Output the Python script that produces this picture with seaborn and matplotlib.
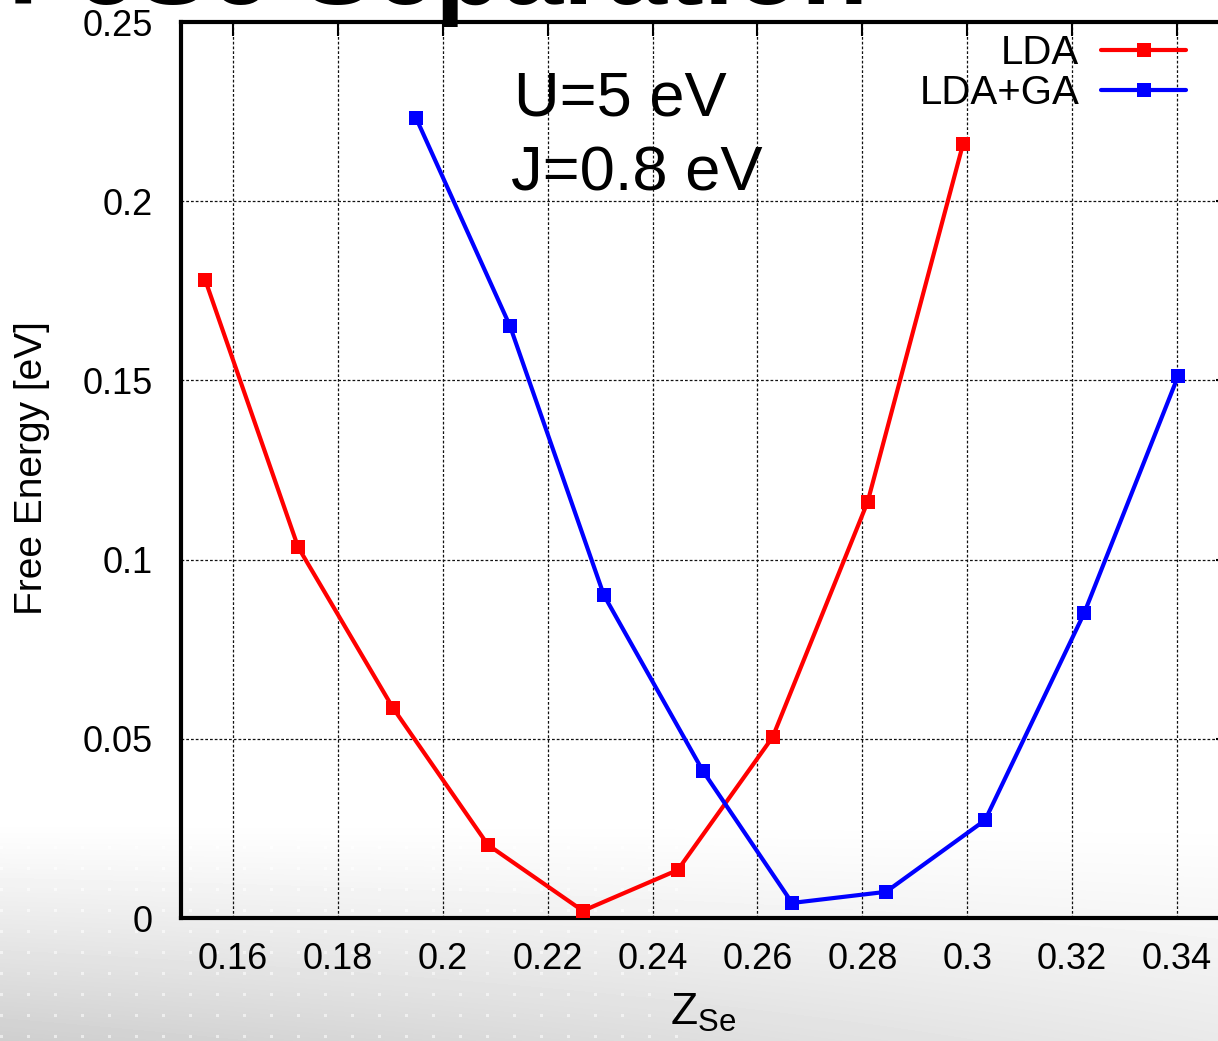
import numpy as np
import pandas as pd
import matplotlib
matplotlib.use("Agg")
import matplotlib.pyplot as plt
import seaborn as sns

# Se height z_Se and free energy (eV) for the two methods
z_lda = [0.1547, 0.1724, 0.1905, 0.2086, 0.2267, 0.2448, 0.2629, 0.2810, 0.2992]
f_lda = [0.178, 0.1035, 0.0586, 0.0204, 0.0020, 0.0134, 0.0505, 0.1161, 0.216]

z_ga = [0.1949, 0.2128, 0.2307, 0.2496, 0.2666, 0.2845, 0.3034, 0.3223, 0.3402]
f_ga = [0.2232, 0.1652, 0.0901, 0.0410, 0.0042, 0.0073, 0.0273, 0.0851, 0.1512]

methods = ["LDA", "LDA+GA"]
colors = {"LDA": "#ff0000", "LDA+GA": "#0000ff"}

x_ticks = [0.16, 0.18, 0.20, 0.22, 0.24, 0.26, 0.28, 0.30, 0.32, 0.34]
x_tick_labels = ["0.16", "0.18", "0.2", "0.22", "0.24", "0.26", "0.28", "0.3", "0.32", "0.34"]
y_ticks = [0.0, 0.05, 0.10, 0.15, 0.20, 0.25]
y_tick_labels = ["0", "0.05", "0.1", "0.15", "0.2", "0.25"]

df = pd.DataFrame({
    "z": z_lda + z_ga,
    "F": f_lda + f_ga,
    "method": [methods[0]] * len(z_lda) + [methods[1]] * len(z_ga),
})

sns.set_theme(style="white")
plt.rcParams["font.family"] = ["Liberation Sans", "DejaVu Sans"]
plt.rcParams["mathtext.fontset"] = "custom"
plt.rcParams["mathtext.rm"] = "Liberation Sans"
plt.rcParams["mathtext.it"] = "Liberation Sans"
plt.rcParams["text.color"] = "black"
plt.rcParams["axes.labelcolor"] = "black"
plt.rcParams["xtick.color"] = "black"
plt.rcParams["ytick.color"] = "black"

W, H, DPI = 1218, 1041, 100
fig = plt.figure(figsize=(W / DPI, H / DPI), dpi=DPI)

# slide backdrop: light grey sweep at the bottom with a grid of faint dots
yy, xx = np.mgrid[0:H, 0:W]
t = np.clip((yy - 820) / (H - 820), 0, 1)
s = np.clip(1.0 - 0.55 * xx / W, 0, 1)
img = 1.0 - 0.19 * t ** 1.1 * s
dots = ((xx % 27) < 3) & (((yy - 6) % 21) < 3) & (xx < 700)
img = np.where(dots & (t > 0.1), img + (1 - img) * 0.55, img)
bg = fig.add_axes([0, 0, 1, 1], zorder=-5)
bg.imshow(img, cmap="gray", vmin=0, vmax=1, aspect="auto", interpolation="nearest")
bg.axis("off")

left_px, right_px, top_px, bottom_px = 180.6, 1229.5, 22, 918
ax = fig.add_axes([left_px / W, 1 - bottom_px / H,
                   (right_px - left_px) / W, (bottom_px - top_px) / H])
ax.set_zorder(1)
ax.patch.set_alpha(0)

sns.lineplot(data=df, x="z", y="F", hue="method", hue_order=methods,
             palette=colors, marker="s", markersize=10, markeredgewidth=0,
             linewidth=3, ax=ax, zorder=3)

ax.set_xlim(0.15, 0.35)
ax.set_ylim(0, 0.25)
ax.set_xticks(x_ticks)
ax.set_xticklabels(x_tick_labels, fontsize=26)
ax.set_yticks(y_ticks)
ax.set_yticklabels(y_tick_labels, fontsize=26)
ax.tick_params(direction="in", top=True, right=True, length=10, width=1.5,
               color="black", labelcolor="black")
ax.tick_params(axis="x", pad=17)
ax.tick_params(axis="y", pad=20)

ax.grid(True, color="#111111", linestyle=(0, (2.2, 1.6)), linewidth=0.9)
ax.set_axisbelow(True)
for sp in ax.spines.values():
    sp.set_color("black")
    sp.set_linewidth(3)
    sp.set_visible(True)

span_x = right_px - left_px
span_y = bottom_px - top_px
ax.set_ylabel("Free Energy [eV]", fontsize=28, color="black")
ax.yaxis.set_label_coords((50 - left_px) / span_x, (bottom_px - 468) / span_y)
ax.set_xlabel(r"$\mathrm{Z}_{\mathrm{Se}}$", fontsize=32, color="black")
ax.xaxis.set_label_coords((703 - left_px) / span_x, (bottom_px - 992) / span_y)

ax.text((514 - left_px) / span_x, (bottom_px - 115) / span_y,
        "U=5 eV", transform=ax.transAxes, fontsize=45.5, va="baseline", ha="left",
        color="black")
ax.text((511 - left_px) / span_x, (bottom_px - 190) / span_y,
        "J=0.8 eV", transform=ax.transAxes, fontsize=45.5, va="baseline", ha="left",
        color="black")

handles, labels = ax.get_legend_handles_labels()
leg = ax.legend(handles, labels, loc="upper right", frameon=False,
                bbox_to_anchor=(1186 / W, 1 - 34 / H),
                bbox_transform=fig.transFigure,
                markerfirst=False, handlelength=2.1, handletextpad=0.55,
                labelspacing=0.05, borderpad=0, borderaxespad=0,
                labelcolor="black", prop={"size": 29})

fig.text(8 / W, 1 - 4 / H, "FeSe Separation", fontsize=79, fontweight="bold",
         va="baseline", ha="left", color="black")

fig.savefig("out.png", dpi=DPI)
